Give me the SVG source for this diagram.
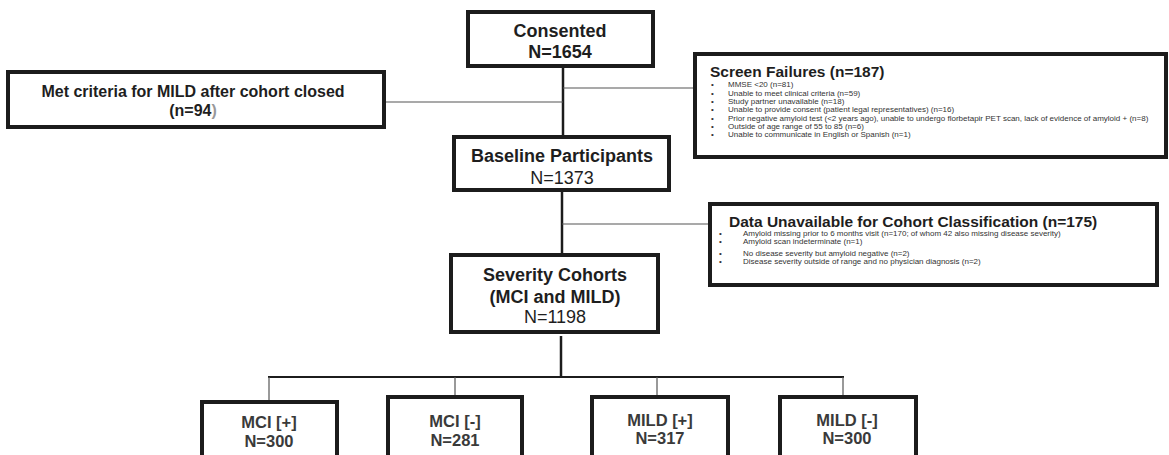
<svg xmlns="http://www.w3.org/2000/svg" width="1169" height="455" viewBox="0 0 1169 455">
<style>
  .box{fill:#fff;stroke:#1c1c1c;stroke-width:4}
  .t{font-family:"Liberation Sans",Arial,sans-serif;fill:#1e1e1e;text-anchor:middle}
  .b{font-weight:bold}
  .s{font-family:"Liberation Sans",Arial,sans-serif;font-size:8px;fill:#333}
  .h{font-family:"Liberation Sans",Arial,sans-serif;font-size:15.5px;font-weight:bold;fill:#1e1e1e}
  .thick{stroke:#1c1c1c;stroke-width:2.5;fill:none}
  .thin{stroke:#555;stroke-width:1.2;fill:none}
  .g{fill:#3a3a3a}
</style>
<g id="connectors">
  <line class="thick" x1="563" y1="66" x2="563" y2="137"/>
  <line class="thin" x1="384" y1="102" x2="563" y2="102"/>
  <line class="thin" x1="563" y1="88" x2="695" y2="88"/>
  <line class="thick" x1="562" y1="190" x2="562" y2="255"/>
  <line class="thin" x1="562" y1="224" x2="710" y2="224"/>
  <line class="thick" x1="561" y1="336" x2="561" y2="377"/>
  <line class="thick" x1="268" y1="377" x2="844" y2="377" style="stroke-width:2"/>
  <line class="thin" x1="269" y1="377" x2="269" y2="402"/>
  <line class="thin" x1="455" y1="377" x2="455" y2="397"/>
  <line class="thin" x1="657" y1="377" x2="657" y2="397"/>
  <line class="thin" x1="843" y1="377" x2="843" y2="397"/>
</g>
<g id="consented">
  <rect class="box" x="468" y="12" width="185" height="54"/>
  <text class="t b" x="560" y="37" font-size="18">Consented</text>
  <text class="t b" x="560" y="58" font-size="18">N=1654</text>
</g>
<g id="met-criteria">
  <rect class="box" x="8" y="72" width="376" height="55"/>
  <text class="t b" x="193" y="97" font-size="16">Met criteria for MILD after cohort closed</text>
  <text class="t b" x="193" y="116" font-size="16">(n=94<tspan fill="#999">)</tspan></text>
</g>
<g id="screen-failures">
  <rect class="box" x="695" y="54" width="471" height="103"/>
  <text class="h" x="710" y="77">Screen Failures (n=187)</text>
  <g class="s">
    <text x="711" y="87">•</text><text x="728" y="87">MMSE &lt;20 (n=81)</text>
    <text x="711" y="95.5">•</text><text x="728" y="95.5">Unable to meet clinical criteria (n=59)</text>
    <text x="711" y="104">•</text><text x="728" y="104">Study partner unavailable (n=18)</text>
    <text x="711" y="112">•</text><text x="728" y="112">Unable to provide consent (patient legal representatives) (n=16)</text>
    <text x="711" y="120.5">•</text><text x="728" y="120.5">Prior negative amyloid test (&lt;2 years ago), unable to undergo florbetapir PET scan, lack of evidence of amyloid + (n=8)</text>
    <text x="711" y="129">•</text><text x="728" y="129">Outside of age range of 55 to 85 (n=6)</text>
    <text x="711" y="137">•</text><text x="728" y="137">Unable to communicate in English or Spanish (n=1)</text>
  </g>
</g>
<g id="baseline">
  <rect class="box" x="454" y="137" width="215" height="53"/>
  <text class="t b" x="562" y="162" font-size="18">Baseline Participants</text>
  <text class="t" x="562" y="184" font-size="18">N=1373</text>
</g>
<g id="data-unavailable">
  <rect class="box" x="710" y="204" width="447" height="81"/>
  <text class="h" x="729" y="227">Data Unavailable for Cohort Classification (n=175)</text>
  <g class="s">
    <text x="719" y="236">•</text><text x="743" y="236">Amyloid missing prior to 6 months visit (n=170; of whom 42 also missing disease severity)</text>
    <text x="719" y="244">•</text><text x="743" y="244">Amyloid scan indeterminate (n=1)</text>
    <text x="719" y="256">•</text><text x="743" y="256">No disease severity but amyloid negative (n=2)</text>
    <text x="719" y="264">•</text><text x="743" y="264">Disease severity outside of range and no physician diagnosis (n=2)</text>
  </g>
</g>
<g id="severity">
  <rect class="box" x="451" y="255" width="207" height="77"/>
  <text class="t b" x="555" y="281" font-size="18">Severity Cohorts</text>
  <text class="t b" x="555" y="303" font-size="18">(MCI and MILD)</text>
  <text class="t" x="555" y="323" font-size="18">N=1198</text>
</g>
<g id="mci-pos">
  <rect class="box" x="202" y="402" width="135" height="70"/>
  <text class="t b g" x="269" y="428" font-size="16.5">MCI [+]</text>
  <text class="t b g" x="269" y="447" font-size="16.5">N=300</text>
</g>
<g id="mci-neg">
  <rect class="box" x="388" y="397" width="134" height="75"/>
  <text class="t b g" x="455" y="427" font-size="16.5">MCI [-]</text>
  <text class="t b g" x="455" y="446" font-size="16.5">N=281</text>
</g>
<g id="mild-pos">
  <rect class="box" x="592" y="397" width="136" height="75"/>
  <text class="t b g" x="660" y="426" font-size="16.5">MILD [+]</text>
  <text class="t b g" x="660" y="444" font-size="16.5">N=317</text>
</g>
<g id="mild-neg">
  <rect class="box" x="780" y="397" width="136" height="75"/>
  <text class="t b g" x="847" y="426" font-size="16.5">MILD [-]</text>
  <text class="t b g" x="847" y="444" font-size="16.5">N=300</text>
</g>
</svg>
